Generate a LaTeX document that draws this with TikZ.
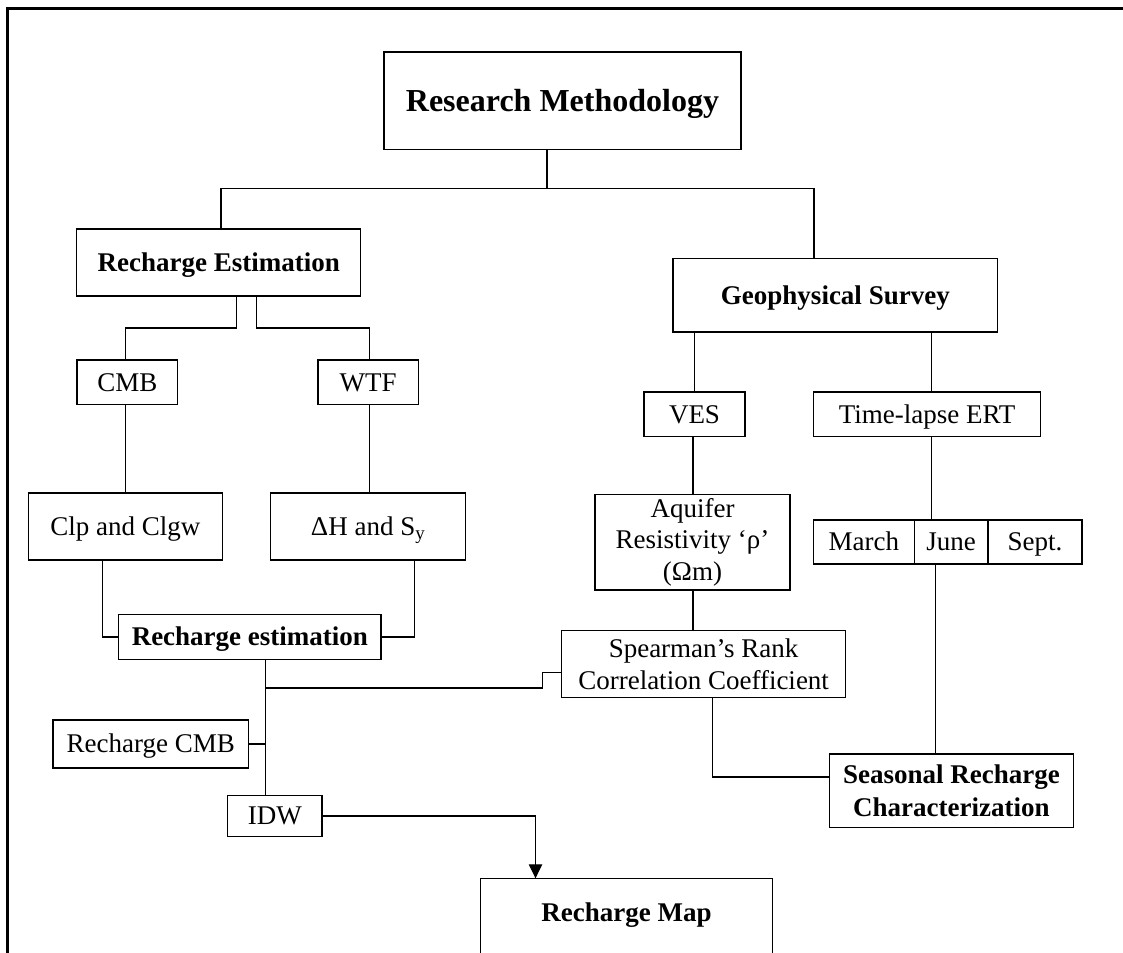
\documentclass[tikz,border=0pt]{standalone}
\usepackage{fontspec}
\setmainfont{Liberation Serif}
\usetikzlibrary{arrows.meta}
\newcommand\mybox[7]{\node[#1, minimum width={(#4-#2)*0.75pt}, minimum height={(#5-#3)*0.75pt}] (#6) at ({(#2+#4)/2},{(#3+#5)/2}) {#7};}
\begin{document}
\begin{tikzpicture}[x=0.75pt,y=-0.75pt,
  bx/.style={draw, line width=1pt, inner sep=0pt, align=center, font=\fontsize{20.25}{23.5}\selectfont},
  bb/.style={bx, font=\fontsize{20.25}{24.5}\selectfont\bfseries},
  ttl/.style={bx, font=\fontsize{24}{28}\selectfont\bfseries, text height=15.9pt, text depth=0pt},
  one/.style={text height=13.4pt, text depth=0pt},
  conn/.style={line width=0.9pt},
  arr/.style={conn, -{Triangle[length=10.5pt,width=10pt]}},
  ]
\path[use as bounding box] (0,0) rectangle (1123,952);
\clip (0,0) rectangle (1123,952);
% outer frame (top and left visible)
\draw[line width=2.25pt] (7.3,1000) -- (7.3,8.5) -- (1200,8.5);
% boxes
\mybox{ttl}{384}{52}{741}{149.3}{RM}{Research Methodology}
\mybox{bb,one}{76.8}{229}{360.7}{296}{RE}{Recharge Estimation}
\mybox{bb,one}{673}{258.7}{997.7}{332}{GS}{Geophysical Survey}
\mybox{bx,one}{77}{360}{177.7}{404.3}{CMB}{CMB}
\mybox{bx,one}{318}{360}{418.2}{404.3}{WTF}{WTF}
\mybox{bx,one}{28.3}{493}{222.3}{560}{Clp}{Clp and Clgw}
\mybox{bx,one}{270.7}{493}{465.7}{560}{DH}{ΔH and S\textsubscript{y}}
\mybox{bx,one}{644}{392}{745}{436.7}{VES}{VES}
\mybox{bx,one}{813.4}{392}{1040.8}{436.7}{TL}{Time-lapse ERT}
\mybox{bx}{595}{494.7}{790}{590}{AQ}{Aquifer\\Resistivity ‘ρ’\\(Ωm)}
\mybox{bx,one}{813.5}{520}{914.3}{564}{Mar}{March}
\mybox{bx,one}{914.3}{520}{988}{564}{Jun}{June}
\mybox{bx,one}{988}{520}{1082}{564}{Sep}{Sept.}
\mybox{bb,one}{118.7}{614.7}{381}{659.3}{RE2}{Recharge estimation}
\mybox{bx}{561.8}{630.7}{845.4}{697.7}{SP}{Spearman’s Rank\\Correlation Coefficient}
\mybox{bx,one}{53}{720}{248.7}{768}{RC}{Recharge CMB}
\mybox{bx,one}{227.7}{795.3}{322}{836.7}{IDW}{IDW}
\mybox{bb}{829.6}{754}{1073.2}{827.3}{SR}{Seasonal Recharge\\Characterization}
\mybox{bb,one,draw=none}{481}{879}{772}{947}{Map}{Recharge Map}
\coordinate (bot) at (0,990);
\draw[line width=1pt] (bot -| Map.west) -- (Map.north west) -- (Map.north east) -- (bot -| Map.east);
% connectors
\begin{scope}[conn]
\coordinate (j0) at (547,188.3);
\coordinate (jL) at (221,188.3);
\coordinate (jR) at (814,188.3);
\draw (j0 |- RM.south) -- (j0);
\draw (jL |- RE.north) -- (jL) -- (jR) -- (jR |- GS.north);
\coordinate (a1) at (236.4,328); \coordinate (a2) at (256.8,328);
\coordinate (b1) at (125.3,328); \coordinate (b2) at (369.3,328);
\draw (a1 |- RE.south) -- (a1) -- (b1) -- (b1 |- CMB.north);
\draw (a2 |- RE.south) -- (a2) -- (b2) -- (b2 |- WTF.north);
\draw (b1 |- CMB.south) -- (b1 |- Clp.north);
\draw (b2 |- WTF.south) -- (b2 |- DH.north);
\coordinate (c1) at (102.7,0); \coordinate (c2) at (414.3,0);
\draw (c1 |- Clp.south) |- (RE2.west);
\draw (c2 |- DH.south) |- (RE2.east);
\coordinate (d1) at (265.3,0);
\draw (d1 |- RE2.south) -- (d1 |- IDW.north);
\coordinate (e1) at (265.3,688); \coordinate (e2) at (542.7,688); \coordinate (e3) at (542.7,672.7);
\draw (e1) -- (e2) -- (e3) -- (e3 -| SP.west);
\draw (RC.east) -- (RC.east -| d1);
\coordinate (h1) at (694.6,0); \coordinate (h2) at (931.6,0); \coordinate (h3) at (693,0);
\draw (h1 |- GS.south) -- (h1 |- VES.north);
\draw (h2 |- GS.south) -- (h2 |- TL.north);
\draw (h3 |- VES.south) -- (h3 |- AQ.north);
\draw (h2 |- TL.south) -- (h2 |- Jun.north);
\draw (h3 |- AQ.south) -- (h3 |- SP.north);
\coordinate (k1) at (935.7,0);
\draw (k1 |- Jun.south) -- (k1 |- SR.north);
\coordinate (m1) at (712.5,777);
\draw (m1 |- SP.south) -- (m1) -- (m1 -| SR.west);
\coordinate (g1) at (535.5,816);
\end{scope}
\draw[arr] (IDW.east |- g1) -- (g1) -- (g1 |- Map.north);
\end{tikzpicture}
\end{document}
